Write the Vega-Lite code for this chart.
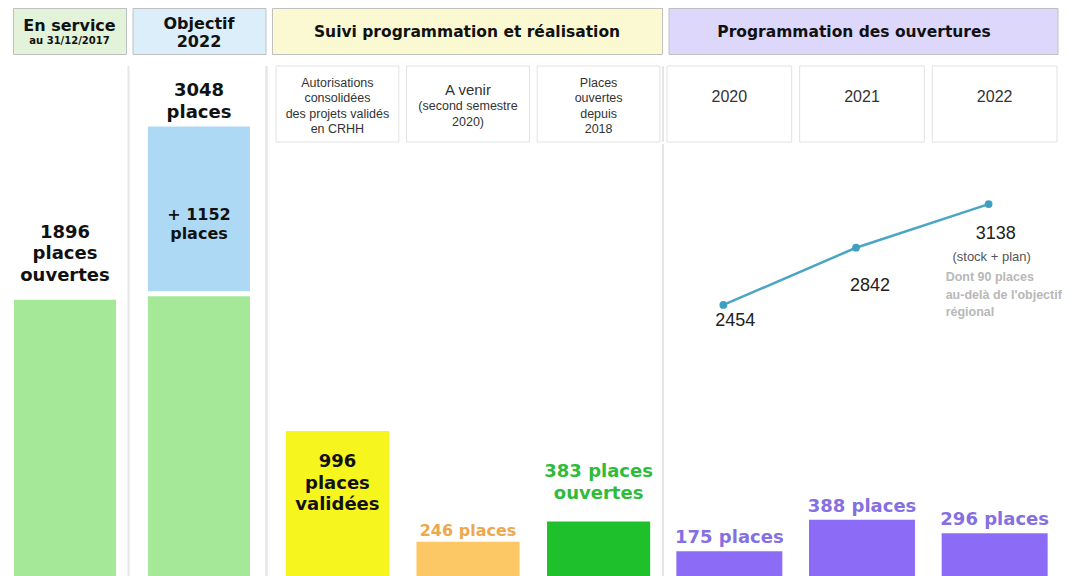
{
  "$schema": "https://vega.github.io/schema/vega-lite/v6.json",
  "background": "white",
  "padding": {"left": 12, "top": 7, "right": 0, "bottom": 0},
  "spacing": 10,
  "config": {"view": {"stroke": null}},
  "resolve": {"scale": {"x": "independent", "y": "independent", "color": "independent"}},
  "vconcat": [
    {
      "hconcat": [
        {
          "width": 113, "height": 46,
          "view": {"fill": "#e2f3da", "stroke": "#c0c0c0"},
          "data": {"values": [{"title": "En service", "sub": "au 31/12/2017"}]},
          "layer": [
            {"mark": {"type": "text", "font": "DejaVu Sans", "fontWeight": "bold", "fontSize": 16, "dy": -5, "color": "#111"}, "encoding": {"text": {"field": "title", "type": "nominal"}}},
            {"mark": {"type": "text", "font": "DejaVu Sans", "fontWeight": "bold", "fontSize": 10, "dy": 10, "color": "#111"}, "encoding": {"text": {"field": "sub", "type": "nominal"}}}
          ]
        },
        {
          "width": 133, "height": 46,
          "view": {"fill": "#dbeef9", "stroke": "#c0c0c0"},
          "data": {"values": [{"title": "Objectif", "sub": "2022"}]},
          "layer": [
            {"mark": {"type": "text", "font": "DejaVu Sans", "fontWeight": "bold", "fontSize": 16, "dy": -7, "color": "#111"}, "encoding": {"text": {"field": "title", "type": "nominal"}}},
            {"mark": {"type": "text", "font": "DejaVu Sans", "fontWeight": "bold", "fontSize": 16, "dy": 11, "color": "#111"}, "encoding": {"text": {"field": "sub", "type": "nominal"}}}
          ]
        },
        {
          "width": 390, "height": 46,
          "view": {"fill": "#fbf9d2", "stroke": "#c0c0c0"},
          "data": {"values": [{"title": "Suivi programmation et réalisation"}]},
          "mark": {"type": "text", "font": "DejaVu Sans", "fontWeight": "bold", "fontSize": 15.5, "dy": 1, "color": "#111"},
          "encoding": {"text": {"field": "title", "type": "nominal"}}
        },
        {
          "width": 389, "height": 46,
          "view": {"fill": "#ddd8fb", "stroke": "#c0c0c0"},
          "data": {"values": [{"title": "Programmation des ouvertures"}]},
          "mark": {"type": "text", "font": "DejaVu Sans", "fontWeight": "bold", "fontSize": 15.5, "dy": 1, "dx": -9, "color": "#111"},
          "encoding": {"text": {"field": "title", "type": "nominal"}}
        }
      ],
      "spacing": 4.5,
      "resolve": {"scale": {"x": "independent", "y": "independent", "color": "independent"}}
    },
    {
      "hconcat": [
        {
          "width": 117, "height": 510,
          "data": {"values": [{"cat": "En service", "places": 1896, "label": ["1896", "places", "ouvertes"]}]},
          "encoding": {"x": {"field": "cat", "type": "nominal", "axis": null, "scale": {"paddingInner": 0, "paddingOuter": 0.0735, "align": 0.067}}},
          "layer": [
            {"mark": {"type": "bar", "color": "#a5e898"}, "encoding": {"y": {"field": "places", "type": "quantitative", "axis": null, "scale": {"domain": [0, 3458]}}}},
            {"mark": {"type": "text", "font": "DejaVu Sans", "fontWeight": "bold", "fontSize": 18, "lineHeight": 21.5, "baseline": "middle", "dy": -67, "color": "#111"}, "encoding": {"y": {"field": "places", "type": "quantitative"}, "text": {"field": "label", "type": "nominal"}}},
            {"mark": {"type": "rule", "color": "#e6e6e6", "strokeWidth": 2, "xOffset": -1.5}, "encoding": {"x": {"value": "width"}, "y": {"value": 0}, "y2": {"value": "height"}}}
          ]
        },
        {
          "width": 136, "height": 510,
          "data": {"values": [
            {"cat": "Objectif 2022", "part": "En service", "start": 0, "end": 1896},
            {"cat": "Objectif 2022", "part": "Supplément", "start": 1896, "end": 3048, "label": ["+ 1152", "places"], "total": ["3048", "places"]}
          ]},
          "encoding": {
            "x": {"field": "cat", "type": "nominal", "axis": null, "scale": {"paddingInner": 0, "paddingOuter": 0.1667, "align": 0.47}},
            "y": {"field": "end", "type": "quantitative", "axis": null, "scale": {"domain": [0, 3458]}}
          },
          "layer": [
            {"transform": [{"filter": "datum.part === 'En service'"}], "mark": {"type": "bar", "color": "#a5e898"}, "encoding": {"y2": {"field": "start"}}},
            {"transform": [{"filter": "datum.part === 'Supplément'"}], "mark": {"type": "bar", "color": "#aed9f5", "y2Offset": -5}, "encoding": {"y2": {"field": "start"}}},
            {"transform": [{"filter": "datum.part === 'Supplément'"}], "mark": {"type": "text", "font": "DejaVu Sans", "fontWeight": "bold", "fontSize": 16, "lineHeight": 18.5, "baseline": "middle", "dy": 89, "color": "#111"}, "encoding": {"text": {"field": "label", "type": "nominal"}}},
            {"transform": [{"filter": "datum.part === 'Supplément'"}], "mark": {"type": "text", "font": "DejaVu Sans", "fontWeight": "bold", "fontSize": 18, "lineHeight": 21.5, "baseline": "middle", "dy": -35, "color": "#111"}, "encoding": {"text": {"field": "total", "type": "nominal"}}},
            {"mark": {"type": "rule", "color": "#e6e6e6", "strokeWidth": 2, "xOffset": -1.5}, "encoding": {"x": {"value": "width"}, "y": {"value": 0}, "y2": {"value": "height"}}}
          ]
        },
        {
          "vconcat": [
            {
              "width": 394, "height": 76,
              "data": {"values": [
                {"cat": "Autorisations", "lines": ["Autorisations", "consolidées", "des projets validés", "en CRHH"]},
                {"cat": "A venir", "head": "A venir", "lines": ["(second semestre", "2020)"]},
                {"cat": "Places ouvertes", "lines": ["Places", "ouvertes", "depuis", "2018"]}
              ]},
              "encoding": {"x": {"field": "cat", "type": "nominal", "axis": null, "scale": {"domain": ["Autorisations", "A venir", "Places ouvertes"], "paddingInner": 0.06, "paddingOuter": 0.0385, "align": 0.6}}},
              "layer": [
                {"mark": {"type": "rect", "fill": "white", "stroke": "#e2e2e2", "strokeWidth": 1}},
                {"transform": [{"filter": "datum.cat !== 'A venir'"}], "mark": {"type": "text", "font": "Liberation Sans", "fontSize": 12.5, "lineHeight": 15.5, "baseline": "middle", "dy": -21.5, "color": "#333"}, "encoding": {"text": {"field": "lines", "type": "nominal"}}},
                {"transform": [{"filter": "datum.cat === 'A venir'"}], "mark": {"type": "text", "font": "Liberation Sans", "fontSize": 12.5, "lineHeight": 15.5, "baseline": "middle", "dy": 2, "color": "#333"}, "encoding": {"text": {"field": "lines", "type": "nominal"}}},
                {"transform": [{"filter": "datum.cat === 'A venir'"}], "mark": {"type": "text", "font": "Liberation Sans", "fontSize": 15, "baseline": "middle", "dy": -14.5, "color": "#333"}, "encoding": {"text": {"field": "head", "type": "nominal"}}},
                {"mark": {"type": "rule", "color": "#e6e6e6", "strokeWidth": 2, "xOffset": -1}, "encoding": {"x": {"value": "width"}, "y": {"value": 0}, "y2": {"value": "height"}}}
              ]
            },
            {
              "width": 394, "height": 434,
              "data": {"values": [
                {"cat": "Autorisations", "places": 996, "label": ["996", "places", "validées"]},
                {"cat": "A venir", "places": 246, "label": "246 places"},
                {"cat": "Places ouvertes", "places": 383, "label": ["383 places", "ouvertes"]}
              ]},
              "encoding": {
                "x": {"field": "cat", "type": "nominal", "axis": null, "scale": {"domain": ["Autorisations", "A venir", "Places ouvertes"], "paddingInner": 0.06, "paddingOuter": 0.0385, "align": 0.6}},
                "y": {"field": "places", "type": "quantitative", "axis": null, "scale": {"domain": [0, 2942]}}
              },
              "layer": [
                {"mark": {"type": "bar", "width": {"band": 0.84}}, "encoding": {"color": {"field": "cat", "type": "nominal", "legend": null, "scale": {"domain": ["Autorisations", "A venir", "Places ouvertes"], "range": ["#f6f51d", "#fcc866", "#1ec02b"]}}}},
                {"transform": [{"filter": "datum.cat === 'Autorisations'"}], "mark": {"type": "text", "font": "DejaVu Sans", "fontWeight": "bold", "fontSize": 18, "lineHeight": 21.5, "baseline": "middle", "dy": 31, "color": "#111"}, "encoding": {"text": {"field": "label", "type": "nominal"}}},
                {"transform": [{"filter": "datum.cat === 'A venir'"}], "mark": {"type": "text", "font": "DejaVu Sans", "fontWeight": "bold", "fontSize": 16, "baseline": "middle", "dy": -11, "color": "#eda84e"}, "encoding": {"text": {"field": "label", "type": "nominal"}}},
                {"transform": [{"filter": "datum.cat === 'Places ouvertes'"}], "mark": {"type": "text", "font": "DejaVu Sans", "fontWeight": "bold", "fontSize": 18, "lineHeight": 22, "baseline": "middle", "dy": -50, "color": "#2fbb3b"}, "encoding": {"text": {"field": "label", "type": "nominal"}}},
                {"mark": {"type": "rule", "color": "#e6e6e6", "strokeWidth": 2, "xOffset": -1}, "encoding": {"x": {"value": "width"}, "y": {"value": 0}, "y2": {"value": "height"}}}
              ]
            }
          ],
          "spacing": 0,
          "resolve": {"scale": {"x": "independent", "y": "independent", "color": "independent"}}
        },
        {
          "vconcat": [
            {
              "width": 390, "height": 76,
              "data": {"values": [{"year": "2020"}, {"year": "2021"}, {"year": "2022"}]},
              "encoding": {"x": {"field": "year", "type": "nominal", "axis": null, "scale": {"domain": ["2020", "2021", "2022"], "paddingInner": 0.06, "paddingOuter": 0}}},
              "layer": [
                {"mark": {"type": "rect", "fill": "white", "stroke": "#e2e2e2", "strokeWidth": 1}},
                {"mark": {"type": "text", "font": "Liberation Sans", "fontSize": 16, "baseline": "middle", "dy": -7, "color": "#333"}, "encoding": {"text": {"field": "year", "type": "nominal"}}}
              ]
            },
            {
              "width": 390, "height": 434,
              "data": {"values": [
                {"year": "2020", "places": 175, "label": "175 places", "cumul": 2454},
                {"year": "2021", "places": 388, "label": "388 places", "cumul": 2842},
                {"year": "2022", "places": 296, "label": "296 places", "cumul": 3138, "note": "(stock + plan)", "note2": ["Dont 90 places", "au-delà de l'objectif", "régional"]}
              ]},
              "encoding": {"x": {"field": "year", "type": "nominal", "axis": null, "scale": {"domain": ["2020", "2021", "2022"], "paddingInner": 0.06, "paddingOuter": 0}}},
              "layer": [
                {"mark": {"type": "bar", "color": "#8c6cf6", "width": {"band": 0.85}}, "encoding": {"y": {"field": "places", "type": "quantitative", "axis": null, "scale": {"domain": [0, 2942]}}}},
                {"mark": {"type": "text", "font": "DejaVu Sans", "fontWeight": "bold", "fontSize": 18, "baseline": "middle", "dy": -13, "color": "#8470e2"}, "encoding": {"y": {"field": "places", "type": "quantitative", "axis": null, "scale": {"domain": [0, 2942]}}, "text": {"field": "label", "type": "nominal"}}},
                {"mark": {"type": "line", "color": "#4ba6c3", "strokeWidth": 2.5, "xOffset": -6}, "encoding": {"y": {"field": "cumul", "type": "quantitative", "axis": null, "scale": {"domain": [610, 3552]}}}},
                {"mark": {"type": "circle", "color": "#3f9fc2", "size": 60, "opacity": 1, "xOffset": -6}, "encoding": {"y": {"field": "cumul", "type": "quantitative", "axis": null, "scale": {"domain": [610, 3552]}}}},
                {"transform": [{"filter": "datum.year === '2020'"}], "mark": {"type": "text", "font": "Liberation Sans", "fontSize": 18, "baseline": "middle", "dy": 16, "dx": 6, "color": "#222"}, "encoding": {"y": {"field": "cumul", "type": "quantitative", "axis": null, "scale": {"domain": [610, 3552]}}, "text": {"field": "cumul", "type": "nominal"}}},
                {"transform": [{"filter": "datum.year === '2021'"}], "mark": {"type": "text", "font": "Liberation Sans", "fontSize": 18, "baseline": "middle", "dy": 38, "dx": 8, "color": "#222"}, "encoding": {"y": {"field": "cumul", "type": "quantitative", "axis": null, "scale": {"domain": [610, 3552]}}, "text": {"field": "cumul", "type": "nominal"}}},
                {"transform": [{"filter": "datum.year === '2022'"}], "mark": {"type": "text", "font": "Liberation Sans", "fontSize": 18, "baseline": "middle", "dy": 30, "dx": 1, "color": "#222"}, "encoding": {"y": {"field": "cumul", "type": "quantitative", "axis": null, "scale": {"domain": [610, 3552]}}, "text": {"field": "cumul", "type": "nominal"}}},
                {"transform": [{"filter": "datum.year === '2022'"}], "mark": {"type": "text", "font": "Liberation Sans", "fontSize": 13, "baseline": "middle", "dy": 53, "dx": -3, "color": "#555"}, "encoding": {"y": {"field": "cumul", "type": "quantitative", "axis": null, "scale": {"domain": [610, 3552]}}, "text": {"field": "note", "type": "nominal"}}},
                {"transform": [{"filter": "datum.year === '2022'"}], "mark": {"type": "text", "font": "Liberation Sans", "fontWeight": "bold", "fontSize": 12.5, "lineHeight": 17.5, "align": "left", "baseline": "middle", "dy": 73, "dx": -49, "color": "#b8b8b8"}, "encoding": {"y": {"field": "cumul", "type": "quantitative", "axis": null, "scale": {"domain": [610, 3552]}}, "text": {"field": "note2", "type": "nominal"}}}
              ],
              "resolve": {"scale": {"y": "independent"}}
            }
          ],
          "spacing": 0,
          "resolve": {"scale": {"x": "independent", "y": "independent", "color": "independent"}}
        }
      ],
      "spacing": 2,
      "resolve": {"scale": {"x": "independent", "y": "independent", "color": "independent"}}
    }
  ]
}
